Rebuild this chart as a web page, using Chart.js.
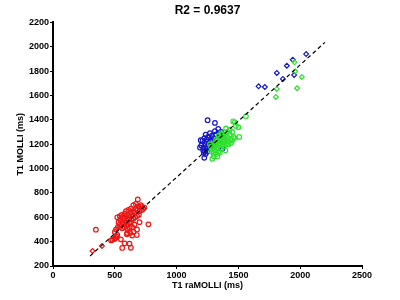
<!DOCTYPE html>
<html>
<head>
<meta charset="utf-8">
<script src="https://cdn.jsdelivr.net/npm/chart.js@4/dist/chart.umd.min.js"></script>
<style>
html,body{margin:0;padding:0;background:#fff;}
#c{display:block;}
</style>
</head>
<body>
<canvas id="c" width="400" height="300"></canvas>
<script>
// ---- data ----
const titleText = 'R2 = 0.9637';
const xLabel = 'T1 raMOLLI (ms)';
const yLabel = 'T1 MOLLI (ms)';
const xTicks = [0, 500, 1000, 1500, 2000, 2500];
const yTicks = [200, 400, 600, 800, 1000, 1200, 1400, 1600, 1800, 2000, 2200];

const fitLineX = [300, 2200];
const fitLineY = [282, 2036];

const redCircles = [
  [347,498],[686,747],[772,542],[678,454],[597,460],[549,419],[619,383],[630,350],[560,348],[579,386],
  [505,430],[515,440],[495,420],[480,415],[470,410],[520,455],[500,480],[510,500],[525,520],[540,540],
  [530,560],[545,580],[560,600],[575,590],[590,610],[600,620],[610,580],[620,600],[630,640],[640,620],
  [650,650],[660,640],[670,670],[680,660],[690,690],[700,680],[710,700],[720,690],[730,670],[740,680],
  [560,560],[575,545],[590,560],[605,540],[620,560],[635,580],[650,590],[665,600],[680,610],[695,620],
  [545,520],[560,510],[580,520],[600,505],[620,515],[640,520],[660,540],[680,500],[700,560],[650,480],
  [625,470],[640,450],[600,470],[520,600],[540,610],[555,620],[590,650],[610,660],[630,670],[650,700],
  [670,710],[700,650],[720,660],[580,630],[600,590]
];
const redDiamonds = [[320,323],[396,364]];

const blueCircles = [
  [1251,1397],[1310,1375],[1235,1279],[1195,1233],[1216,1170],[1224,1088],[1310,1307],[1337,1326],[1189,1173],[1372,1164],
  [1210,1230],[1225,1250],[1240,1220],[1255,1260],[1270,1290],[1285,1270],[1300,1250],[1320,1280],[1340,1290],[1355,1270],
  [1230,1200],[1245,1180],[1215,1150],[1230,1140],[1240,1160],[1260,1200],[1275,1220],[1290,1230],[1305,1210],[1350,1240],
  [1220,1130],[1235,1120],[1250,1140],[1265,1170],[1280,1190],[1320,1230],[1360,1300],[1380,1250],[1200,1190],[1245,1240]
];
const greenCircles = [
  [1561,1429],[1507,1260],[1458,1388],[1289,1080],[1470,1380],[1480,1350],[1500,1340],[1450,1300],[1430,1280],[1410,1260],
  [1400,1240],[1390,1220],[1380,1250],[1370,1200],[1360,1230],[1350,1210],[1340,1190],[1330,1170],[1320,1200],[1310,1150],
  [1300,1130],[1290,1160],[1280,1180],[1270,1200],[1300,1100],[1320,1120],[1340,1140],[1360,1160],[1380,1180],[1400,1200],
  [1420,1220],[1440,1240],[1460,1260],[1420,1200],[1440,1210],[1390,1270],[1350,1250],[1330,1230],[1310,1210],[1300,1180],
  [1370,1280],[1410,1300],[1430,1320],[1400,1330],[1360,1290],[1340,1270],[1320,1240],[1380,1220],[1450,1230],[1470,1250],
  [1280,1140],[1310,1190],[1330,1100],[1350,1130],[1395,1150]
];
const blueDiamonds = [
  [2048,1940],[1940,1894],[1892,1845],[1811,1785],[1860,1736],[1951,1768],[1663,1675],[1714,1670]
];
const greenDiamonds = [
  [1954,1872],[1959,1798],[2013,1752],[1811,1654],[1975,1659],[1803,1588]
];

// ---- build chart ----
const toPts = arr => arr.map(p => ({x: p[0], y: p[1]}));
const FONT = "'Liberation Sans', Arial, Helvetica, sans-serif";
const RED = '#ee1515', BLUE = '#1414cc', GREEN = '#2fe02f';

function scatterSet(arr, color, style) {
  return {
    type: 'scatter',
    data: toPts(arr),
    pointStyle: style,
    pointRadius: style === 'circle' ? 2.3 : 2.4,
    pointBorderWidth: 1.2,
    pointBackgroundColor: 'rgba(0,0,0,0)',
    pointBorderColor: color,
    showLine: false
  };
}

new Chart(document.getElementById('c'), {
  data: {
    datasets: [
      {
        type: 'line',
        data: fitLineX.map((x, i) => ({x: x, y: fitLineY[i]})),
        borderColor: '#000',
        borderWidth: 1.2,
        borderDash: [4, 3],
        pointRadius: 0,
        fill: false
      },
      scatterSet(greenDiamonds, GREEN, 'rectRot'),
      scatterSet(blueDiamonds, BLUE, 'rectRot'),
      scatterSet(greenCircles, GREEN, 'circle'),
      scatterSet(blueCircles, BLUE, 'circle'),
      scatterSet(redDiamonds, RED, 'rectRot'),
      scatterSet(redCircles, RED, 'circle')
    ]
  },
  options: {
    responsive: false,
    animation: false,
    layout: {padding: {left: 0, right: 38, top: 0, bottom: 0}},
    plugins: {
      legend: {display: false},
      tooltip: {enabled: false},
      title: {
        display: true,
        text: titleText,
        fullSize: false,
        color: '#000',
        font: {family: FONT, size: 12, weight: 'bold'},
        padding: {top: 3, bottom: 5}
      }
    },
    scales: {
      x: {
        type: 'linear',
        min: xTicks[0],
        max: xTicks[xTicks.length - 1],
        afterBuildTicks: s => { s.ticks = xTicks.map(v => ({value: v})); },
        afterFit: s => { s.height = 34; },
        border: {display: true, color: '#000', width: 2},
        grid: {drawOnChartArea: false, drawTicks: true, tickLength: 3, tickColor: '#000', tickWidth: 1},
        ticks: {color: '#000', padding: 1, callback: v => String(v), font: {family: FONT, size: 9, weight: 'bold'}, maxRotation: 0},
        title: {display: true, text: xLabel, color: '#000', font: {family: FONT, size: 9, weight: 'bold'}, padding: {top: 0, bottom: 9}}
      },
      y: {
        type: 'linear',
        min: yTicks[0],
        max: yTicks[yTicks.length - 1],
        afterBuildTicks: s => { s.ticks = yTicks.map(v => ({value: v})); },
        afterFit: s => { s.width = 53; },
        border: {display: true, color: '#000', width: 2},
        grid: {drawOnChartArea: false, drawTicks: true, tickLength: 3, tickColor: '#000', tickWidth: 1},
        ticks: {color: '#000', padding: 1, callback: v => String(v), font: {family: FONT, size: 9, weight: 'bold'}},
        title: {display: true, text: yLabel, color: '#000', font: {family: FONT, size: 9, weight: 'bold'}, padding: {top: 15, bottom: 0}}
      }
    }
  }
});
</script>
</body>
</html>
